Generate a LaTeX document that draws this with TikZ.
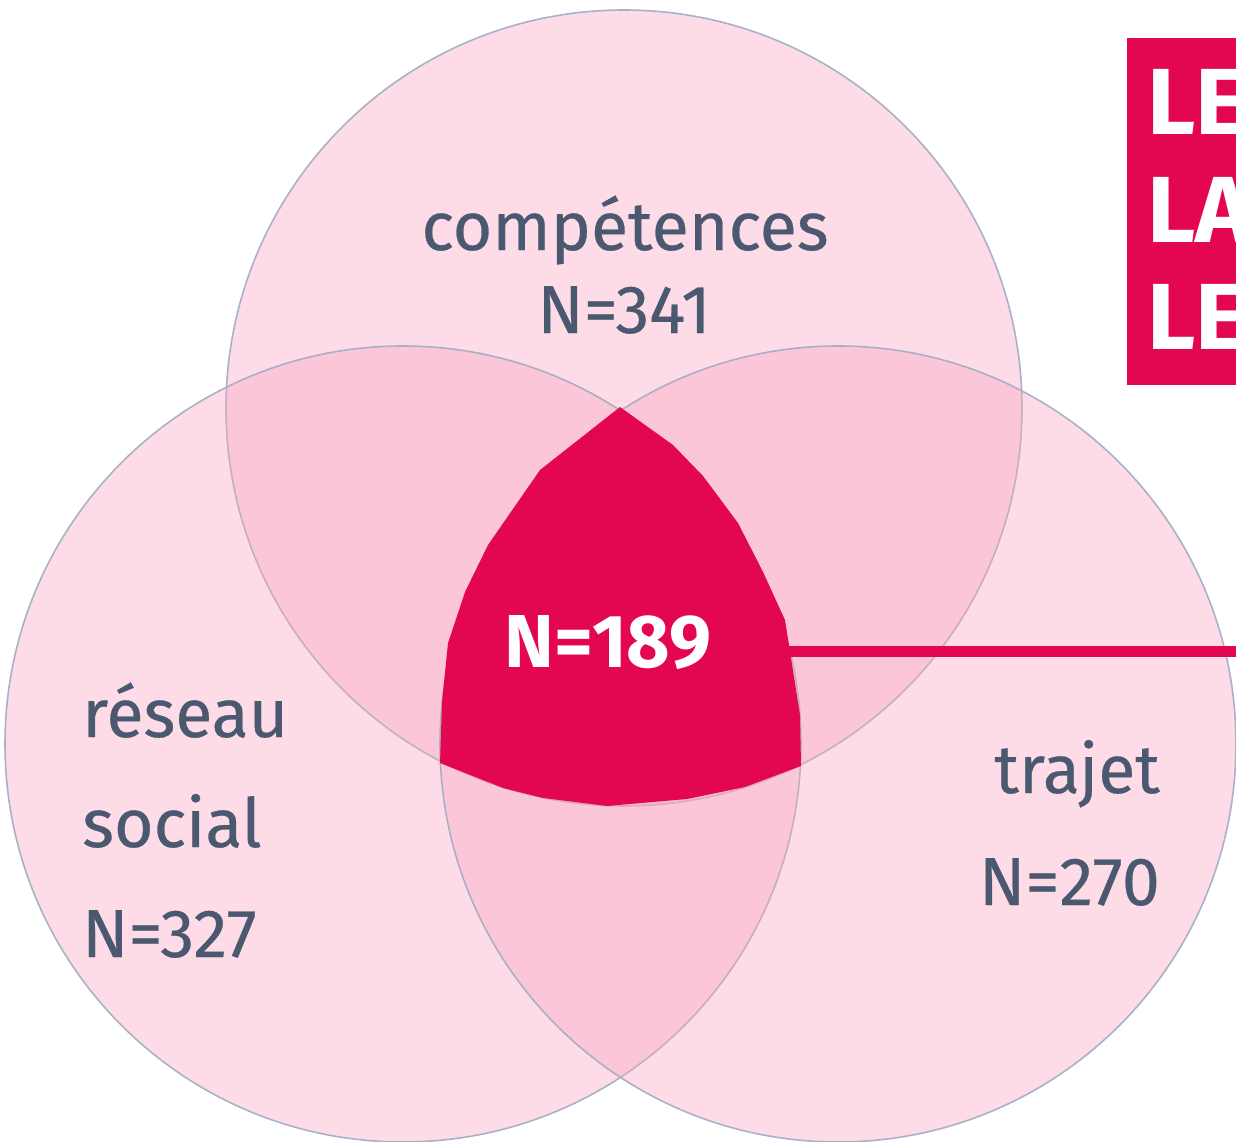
\documentclass[tikz,border=0pt]{standalone}
\usepackage{fontspec}
\setmainfont{Fira Sans}
\newfontfamily\labelfont[FakeBold=0.4]{Fira Sans}
\usetikzlibrary{positioning}
\definecolor{vennpink}{RGB}{250,165,192}
\definecolor{vennedge}{RGB}{160,172,195}
\definecolor{crimson}{RGB}{227,6,80}
\definecolor{slate}{RGB}{74,88,112}
\tikzset{
  venn/.style={fill=vennpink, fill opacity=.38, draw=vennedge, draw opacity=.9, line width=1.6pt},
  lbl/.style={text=slate, font=\labelfont\fontsize{68}{80}\selectfont, inner sep=0pt},
  banner/.style={text=white, font=\fontsize{94}{110}\selectfont\bfseries, inner sep=0pt, anchor=base west}
}
\begin{document}
\begin{tikzpicture}[x=1pt,y=-1pt]
  \useasboundingbox (0,0) rectangle (1236,1142);
  \clip (0,0) rectangle (1236,1142);
  \fill[white] (0,0) rectangle (1236,1142);

  % three sets
  \draw[venn] (624,408) coordinate (ctop) circle (398);
  \draw[venn] (403,744) coordinate (cleft) circle (398);
  \draw[venn] (838,744) coordinate (cright) circle (398);

  % common part
  \fill[crimson] (620,407) -- (673,445) -- (703,476) -- (738,523) -- (763,572)
    -- (785,620) -- (800,715) -- (801,766) -- (745,787) -- (687,799) -- (607,806)
    -- (543,798) -- (503,788) -- (440,763) -- (442,702) -- (448,643) -- (465,592)
    -- (488,545) -- (540,470) -- cycle;
  \node[text=white, font=\fontsize{75}{85}\selectfont\bfseries, inner sep=0pt, anchor=base]
    (core) at (608,667) {N=189};

  \coordinate (tip) at (786,651.5);
  \coordinate (far) at (1240,651.5);
  \draw[crimson, line width=10.5pt] (tip) -- (far);

  % labels
  \node[lbl, anchor=base] (comp) at (625,250) {compétences};
  \node[lbl, anchor=base] (ncomp) at (624,333) {N=341};
  \node[lbl, anchor=base west] (res) at (82,737) {réseau};
  \node[lbl, anchor=base west] (soc) at (82,847) {social};
  \node[lbl, anchor=base west] (nres) at (82,957) {N=327};
  \node[lbl, anchor=base east] (traj) at (1160,793) {trajet};
  \node[lbl, anchor=base east] (ntraj) at (1160,905) {N=270};

  % title box, cut by the edge
  \fill[crimson] (1127,38) rectangle (1300,385);
  \node[banner] (t1) at (1147,135) {LE};
  \node[banner] (t2) at (1147,242) {LA};
  \node[banner] (t3) at (1147,349) {LE};
\end{tikzpicture}
\end{document}
